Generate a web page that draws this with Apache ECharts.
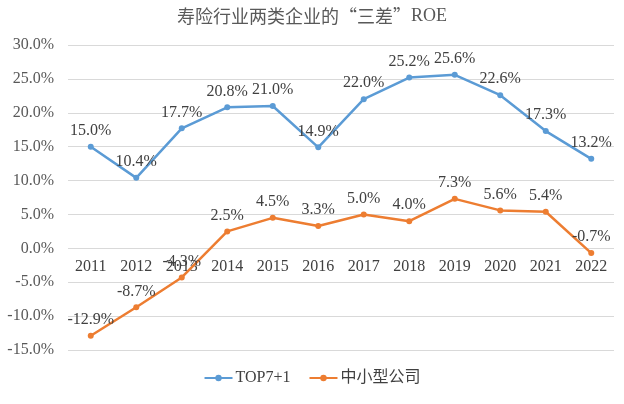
<!DOCTYPE html>
<html><head><meta charset="utf-8">
<script src="https://cdn.jsdelivr.net/npm/echarts@6/dist/echarts.min.js"></script>
<style>html,body{margin:0;padding:0;background:#fff}#c{width:624px;height:404px}</style>
</head><body><div id="c"></div>
<script>
const years = ['2011','2012','2013','2014','2015','2016','2017','2018','2019','2020','2021','2022'];
const top7 = [15.0, 10.4, 17.7, 20.8, 21.0, 14.9, 22.0, 25.2, 25.6, 22.6, 17.3, 13.2];
const smallMid = [-12.9, -8.7, -4.3, 2.5, 4.5, 3.3, 5.0, 4.0, 7.3, 5.6, 5.4, -0.7];
const seriesNames = ['TOP7+1', '中小型公司'];
const fontLatin = '"Liberation Serif", "Times New Roman", "Noto Sans CJK SC", serif';
const yMin = -15, yMax = 30;
const gridTop = 45, gridBottom = 54, H = 404;
const plotH = H - gridTop - gridBottom;
const zeroOffset = -plotH * (0 - yMin) / (yMax - yMin);
const chart = echarts.init(document.getElementById('c'));
const lbl = {show:true, position:'top', distance:5, fontFamily:fontLatin, fontSize:16, color:'#404040', formatter:p=>p.value.toFixed(1)+'%'};
chart.setOption({
  animation:false,
  title:{text:'{a|寿险行业两类企业的“三差”}{b|ROE}', left:'center', top:2,
    textStyle:{fontWeight:'normal', rich:{
      a:{fontFamily:'"Noto Sans CJK SC", sans-serif', fontSize:18, fontWeight:'normal', color:'#595959'},
      b:{fontFamily:'"Liberation Serif", serif', fontSize:18, fontWeight:'normal', color:'#595959'}}}},
  legend:{bottom:13, left:'center', itemGap:18, itemWidth:28, itemHeight:8,
    textStyle:{fontFamily:fontLatin, fontSize:16, color:'#404040', padding:[0,0,0,-2]},
    data:seriesNames},
  grid:{left:68, right:10, top:gridTop, bottom:gridBottom},
  xAxis:{type:'category', data:years, boundaryGap:true, offset:zeroOffset,
    axisLine:{show:false, onZero:false}, axisTick:{show:false},
    axisLabel:{fontFamily:fontLatin, fontSize:16, color:'#404040', margin:10}},
  yAxis:{type:'value', min:yMin, max:yMax, interval:5,
    axisLine:{show:false}, axisTick:{show:false},
    splitLine:{lineStyle:{color:'#d9d9d9'}},
    axisLabel:{fontFamily:fontLatin, fontSize:16, color:'#595959', margin:14, formatter:v=>v.toFixed(1)+'%'}},
  series:[
    {name:seriesNames[0], type:'line', data:top7, symbol:'circle', symbolSize:6,
      lineStyle:{width:2.5, color:'#5B9BD5'}, itemStyle:{color:'#5B9BD5'}, label:lbl},
    {name:seriesNames[1], type:'line', data:smallMid, symbol:'circle', symbolSize:6,
      lineStyle:{width:2.5, color:'#ED7D31'}, itemStyle:{color:'#ED7D31'}, label:lbl}
  ]
});
</script></body></html>
